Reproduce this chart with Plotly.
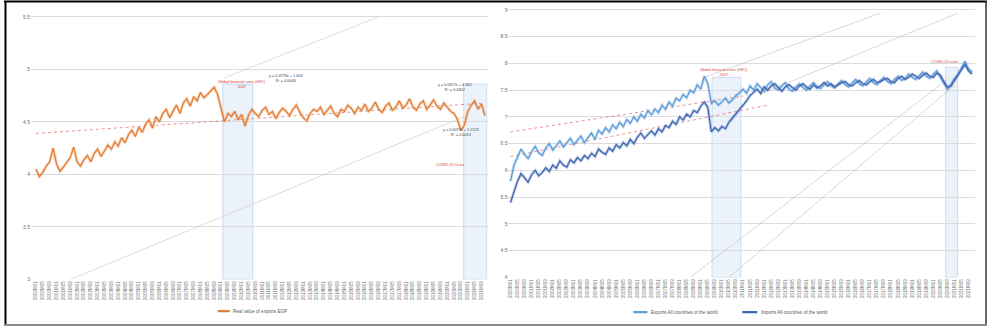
import plotly.graph_objects as go

# ---------------------------------------------------------------- data
# bi-monthly observations, 2000M01 .. 2021M11
periods = [f"{2000 + (2 * i) // 12}M{(2 * i) % 12 + 1:02d}" for i in range(132)]
idx = list(range(132))

exports_egp = [
    4.05, 3.98, 4.02, 4.08, 4.12, 4.25, 4.10, 4.03, 4.07, 4.12, 4.16, 4.26, 4.12, 4.08,
    4.14, 4.18, 4.12, 4.20, 4.24, 4.17,
    4.22, 4.28, 4.24, 4.31, 4.27, 4.35, 4.30, 4.38, 4.42, 4.36,
    4.45, 4.40, 4.48, 4.52, 4.44, 4.55, 4.50, 4.58, 4.62, 4.54,
    4.60, 4.66, 4.58, 4.68, 4.72, 4.65, 4.74, 4.70, 4.78, 4.73, 4.76, 4.80, 4.83,
    4.76, 4.62, 4.50, 4.58, 4.55, 4.60, 4.52, 4.57, 4.46,
    4.56, 4.62, 4.58, 4.55, 4.61, 4.64, 4.57, 4.60, 4.53, 4.59,
    4.63, 4.60, 4.56, 4.62, 4.66, 4.59, 4.54, 4.51, 4.58, 4.62,
    4.60, 4.64, 4.57, 4.61, 4.65, 4.58, 4.55, 4.62, 4.60, 4.66,
    4.63, 4.58, 4.64, 4.61, 4.67, 4.60, 4.63, 4.69, 4.62, 4.59,
    4.65, 4.68, 4.61, 4.64, 4.70, 4.63, 4.66, 4.72, 4.64, 4.61,
    4.67, 4.70, 4.62, 4.66, 4.71, 4.65, 4.62, 4.68, 4.64, 4.60,
    4.58, 4.52,
    4.42, 4.47, 4.60, 4.66, 4.70, 4.62, 4.67, 4.56,
]

exports_world = [
    5.80, 6.10, 6.25, 6.40, 6.30, 6.22, 6.35, 6.45, 6.33, 6.28,
    6.42, 6.50, 6.38, 6.47, 6.55, 6.44, 6.52, 6.60, 6.48, 6.56,
    6.64, 6.52, 6.60, 6.70, 6.58, 6.75, 6.68, 6.80, 6.72, 6.85,
    6.78, 6.90, 6.82, 6.95, 6.88, 7.00, 6.92, 7.05, 6.98, 7.12,
    7.04, 7.15, 7.08, 7.22, 7.14, 7.28, 7.20, 7.35, 7.30, 7.42,
    7.36, 7.50, 7.45, 7.60, 7.52, 7.76, 7.62, 7.25, 7.30, 7.22,
    7.28, 7.35, 7.26, 7.32, 7.40, 7.45, 7.52, 7.44, 7.58, 7.50,
    7.62, 7.55, 7.48, 7.60, 7.66, 7.54, 7.50, 7.58, 7.64, 7.52,
    7.48, 7.56, 7.62, 7.55, 7.50, 7.58, 7.64, 7.57, 7.53, 7.60,
    7.66, 7.58, 7.54, 7.62, 7.68, 7.60, 7.56, 7.64, 7.70, 7.62,
    7.58, 7.66, 7.72, 7.64, 7.60, 7.68, 7.74, 7.66, 7.62, 7.70,
    7.76, 7.68, 7.72, 7.80, 7.74, 7.70, 7.78, 7.84, 7.76, 7.72,
    7.80, 7.86, 7.74, 7.62, 7.52, 7.60, 7.72, 7.80, 7.92, 8.04, 7.90, 7.84,
]

imports_world = [
    5.40, 5.62, 5.80, 5.94, 5.85, 5.78, 5.92, 6.00, 5.90, 5.96,
    6.05, 5.98, 6.10, 6.04, 6.18, 6.10, 6.06, 6.20, 6.14, 6.24,
    6.18, 6.28, 6.22, 6.32, 6.26, 6.40, 6.34, 6.30, 6.42, 6.36,
    6.48, 6.42, 6.52, 6.46, 6.58, 6.50, 6.62, 6.70, 6.60, 6.68,
    6.74, 6.66, 6.78, 6.72, 6.84, 6.80, 6.92, 6.86, 7.00, 6.94,
    7.05, 7.00, 7.12, 7.08, 7.20, 7.28, 7.18, 6.72, 6.80, 6.74,
    6.82, 6.78, 6.90, 6.98, 7.06, 7.12, 7.22, 7.30, 7.40, 7.46,
    7.52, 7.44, 7.56, 7.50, 7.58, 7.62, 7.54, 7.48, 7.56, 7.60,
    7.55, 7.50, 7.58, 7.62, 7.56, 7.52, 7.60, 7.54, 7.58, 7.64,
    7.58, 7.62, 7.56, 7.60, 7.64, 7.66, 7.60, 7.58, 7.64, 7.68,
    7.62, 7.60, 7.66, 7.70, 7.64, 7.66, 7.70, 7.72, 7.66, 7.64,
    7.72, 7.76, 7.70, 7.74, 7.80, 7.76, 7.72, 7.78, 7.82, 7.76,
    7.74, 7.82, 7.78, 7.66, 7.56, 7.58, 7.68, 7.76, 7.88, 7.98, 7.86, 7.80,
]

# fitted trend segments: (start index, end index), (start value, end value)
left_red_trend = ([0, 131], [4.39, 4.68])
left_grey_trends = [([10, 125], [3.0, 4.55]), ([55, 100], [4.92, 5.50])]
right_red_trends = [([0, 66], [6.72, 7.39]), ([0, 73], [6.26, 7.22])]
right_grey_trends = [([55, 105], [7.74, 8.94]), ([71, 127], [7.43, 8.94]),
                     ([51, 124], [4.0, 7.70]), ([62, 126], [4.0, 7.59])]

# crisis windows (index ranges) and shading heights
left_crises = [(54.5, 63.3, 4.86), (124.8, 131.6, 4.86)]
right_crises = [(57.2, 65.4, 7.74), (123.5, 126.9, 7.93)]

left_ticks = [3, 3.5, 4, 4.5, 5, 5.5]
right_ticks = [4, 4.5, 5, 5.5, 6, 6.5, 7, 7.5, 8, 8.5, 9]

W, H = 989, 330

ORANGE = "#E07A34"
LIGHT_BLUE = "#5B9BD5"
DARK_BLUE = "#3A64B0"
GRID = "#DCDCDC"
TICK = "#6E6E6E"

fig = go.Figure()


def glow_line(x, y, color, halo, xa, ya, width=1.2):
    fig.add_trace(go.Scatter(x=x, y=y, mode="lines", xaxis=xa, yaxis=ya,
                             line=dict(color=halo, width=width + 1.8),
                             hoverinfo="skip", showlegend=False))
    fig.add_trace(go.Scatter(x=x, y=y, mode="lines", xaxis=xa, yaxis=ya,
                             line=dict(color=color, width=width),
                             showlegend=False))


# crisis shading
for xa, ya, crises, base in (("x", "y", left_crises, 3), ("x2", "y2", right_crises, 4)):
    for x0, x1, top in crises:
        fig.add_shape(type="rect", xref=xa, yref=ya, x0=x0, x1=x1, y0=base, y1=top,
                      fillcolor="rgba(212,227,243,0.45)",
                      line=dict(color="rgba(165,198,230,0.8)", width=0.7), layer="below")

# trend lines
fig.add_trace(go.Scatter(x=left_red_trend[0], y=left_red_trend[1], mode="lines",
                         line=dict(color="rgba(220,70,70,0.75)", width=0.8, dash="dot"),
                         showlegend=False))
for xs, ys in left_grey_trends:
    fig.add_trace(go.Scatter(x=xs, y=ys, mode="lines",
                             line=dict(color="rgba(200,190,180,0.7)", width=0.8),
                             showlegend=False))
for xs, ys in right_red_trends:
    fig.add_trace(go.Scatter(x=xs, y=ys, mode="lines", xaxis="x2", yaxis="y2",
                             line=dict(color="rgba(220,70,70,0.75)", width=0.8, dash="dot"),
                             showlegend=False))
for xs, ys in right_grey_trends:
    fig.add_trace(go.Scatter(x=xs, y=ys, mode="lines", xaxis="x2", yaxis="y2",
                             line=dict(color="rgba(190,185,180,0.7)", width=0.8),
                             showlegend=False))

# series
glow_line(idx, exports_egp, ORANGE, "rgba(240,160,100,0.45)", "x", "y")
glow_line(idx, exports_world, LIGHT_BLUE, "rgba(140,185,230,0.45)", "x2", "y2")
glow_line(idx, imports_world, DARK_BLUE, "rgba(110,140,200,0.45)", "x2", "y2")

tick_idx = idx[::2]
tick_txt = periods[::2]

axis_x = dict(showgrid=False, zeroline=False, showline=False, tickmode="array",
              tickvals=tick_idx, ticktext=tick_txt, tickangle=-90,
              tickfont=dict(size=4.5, color=TICK, family="Liberation Sans"), ticks="")
axis_y = dict(showgrid=True, gridcolor=GRID, gridwidth=1, zeroline=False, showline=False,
              tickmode="array", ticks="",
              tickfont=dict(size=5, color=TICK, family="Liberation Sans"))

fig.update_layout(
    width=W, height=H, margin=dict(l=0, r=0, t=0, b=0),
    paper_bgcolor="white", plot_bgcolor="white", showlegend=False,
    xaxis=dict(axis_x, domain=[30 / W, 487 / W], range=[-1.46, 131.75]),
    yaxis=dict(axis_y, domain=[1 - 282 / H, 1 - 8 / H], range=[3, 5.585],
               tickvals=left_ticks, ticktext=[f"{v:g}" for v in left_ticks]),
    xaxis2=dict(axis_x, domain=[508 / W, 975 / W], range=[-0.57, 131.84], anchor="y2"),
    yaxis2=dict(axis_y, domain=[1 - 280 / H, 1 - 6 / H], range=[4, 9.074], anchor="x2",
                tickvals=right_ticks, ticktext=[f"{v:g}" for v in right_ticks]),
)

RED = "#D43A3A"
notes = [
    ("x", "y", 60.0, 4.854, "Global financial crisis (GFC)<br>2007", RED),
    ("x", "y", 73.1, 4.915, "y = 0.0779x + 1.003<br>R² = 0.0046", "#404040"),
    ("x", "y", 122.3, 4.825, "y = 0.0017x + 4.262<br>R² = 0.4307", "#404040"),
    ("x", "y", 124.0, 4.396, "y = 0.0071x + 1.2123<br>R² = 0.0013", "#404040"),
    ("x", "y", 120.8, 4.094, "COVID-19 Crisis", RED),
    ("x2", "y2", 60.7, 7.824, "Global financial crisis (GFC)<br>2007", RED),
    ("x2", "y2", 123.3, 8.02, "COVID-19 crisis", RED),
]
for xa, ya, x, y, txt, col in notes:
    fig.add_annotation(xref=xa, yref=ya, x=x, y=y, text=txt, showarrow=False,
                       font=dict(size=3.8, color=col, family="Liberation Sans"),
                       xanchor="center", yanchor="middle")

# legends
legend_items = [
    (217, 229, 314, ORANGE, "Real value of exports EGP"),
    (633, 647, 315, LIGHT_BLUE, "Exports All countries of the world"),
    (742, 757, 315, DARK_BLUE, "Imports All countries of the world"),
]
for x0, x1, yy, col, txt in legend_items:
    fig.add_shape(type="line", xref="paper", yref="paper", x0=x0 / W, x1=x1 / W,
                  y0=1 - yy / H, y1=1 - yy / H, line=dict(color=col, width=2.2))
    fig.add_annotation(xref="paper", yref="paper", x=(x1 + 1.5) / W, y=1 - yy / H,
                       text=txt, showarrow=False, xanchor="left", yanchor="middle",
                       font=dict(size=4.6, color="#595959", family="Liberation Sans"))

# frame
fig.add_shape(type="line", xref="paper", yref="paper", x0=3 / W, x1=987 / W,
              y0=1 - 1.5 / H, y1=1 - 1.5 / H, line=dict(color="black", width=2))
fig.add_shape(type="line", xref="paper", yref="paper", x0=4.5 / W, x1=4.5 / W,
              y0=1 - 1 / H, y1=1 - 328 / H, line=dict(color="black", width=2))
fig.add_shape(type="line", xref="paper", yref="paper", x0=986 / W, x1=986 / W,
              y0=1 - 1 / H, y1=1 - 328 / H, line=dict(color="#333333", width=1.5))
fig.add_shape(type="line", xref="paper", yref="paper", x0=3 / W, x1=987 / W,
              y0=1 - 328 / H, y1=1 - 328 / H, line=dict(color="#8C8C8C", width=2))

fig.write_html("out.html")
